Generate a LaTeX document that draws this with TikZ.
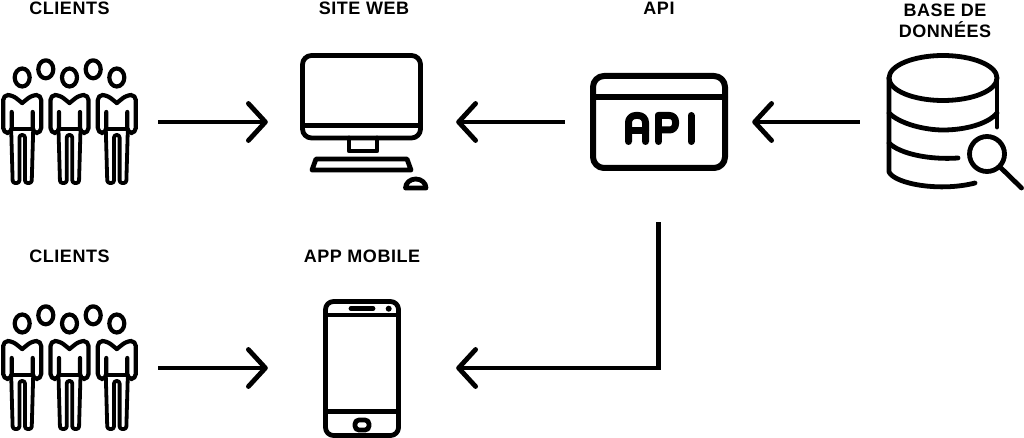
\documentclass[tikz,border=0pt]{standalone}
\usepackage{fontspec}
\setmainfont{Liberation Sans}[LetterSpace=3]
\usetikzlibrary{arrows.meta}
\tikzset{
    iconbox/.style={minimum width=#1, minimum height=200pt, inner sep=0pt},
    toplabel/.style={font=\fontsize{18}{21}\selectfont\bfseries, align=center, anchor=base, text=black},
    link/.style={line width=4.8pt, -{Straight Barb[round,length=17pt,width=37pt,line width=4.8pt]}},
    icon/.style={line width=4.8pt, line join=round, line cap=round, rounded corners=#1},
    icon/.default=0pt,
    person/.pic={
        \draw[icon, line width=4.2pt] (0,-44.5) ellipse (7.5 and 9);
        \draw[icon=5pt, line width=4.2pt] (0,-19) -- (-10,-27) -- (-19,-27) -- (-19,11) -- (-10.5,11) -- (-10.5,-10);
        \draw[icon=5pt, line width=4.2pt] (0,-19) -- (10,-27) -- (19,-27) -- (19,11) -- (10.5,11) -- (10.5,-10);
        \draw[icon, line width=4.2pt] (-10.5,7) -- (10.5,7);
        \draw[icon=2.5pt, line width=3.8pt] (-11,8) -- (-9.5,61) -- (-2.8,61) -- (-2.8,13) -- (2.8,13) -- (2.8,61) -- (9.5,61) -- (11,8);
    },
    crowd/.pic={
        \pic at (-47.3,0) {person};
        \pic at (0,0) {person};
        \pic at (47.3,0) {person};
        \draw[icon, line width=4.2pt] (-23.7,-52.7) ellipse (7.5 and 9);
        \draw[icon, line width=4.2pt] (23.7,-52.7) ellipse (7.5 and 9);
    }
}
\begin{document}
\begin{tikzpicture}[x=1pt, y=-1pt]
    \useasboundingbox (0,0) rectangle (1024,438);

    % boxes around the icons, the arrows stop at their sides
    \node[iconbox=178pt] (clientsTop) at (69,122) {};
    \node[iconbox=188pt] (siteWeb) at (362,122) {};
    \node[iconbox=187pt] (api) at (658.5,122) {};
    \node[iconbox=170pt] (dataBase) at (945,122) {};
    \node[iconbox=178pt] (clientsBottom) at (69,368) {};
    \node[iconbox=188pt] (appMobile) at (362,368) {};
    \coordinate (corner) at (api.south |- appMobile);

    \node[toplabel] (labelClientsTop) at (69.5,15) {CLIENTS};
    \node[toplabel] (labelSite) at (364,15) {SITE WEB};
    \node[toplabel] (labelApi) at (659,15) {API};
    \node[toplabel] (labelBase) at (945,37.5) {BASE DE\\DONNÉES};
    \node[toplabel] (labelClientsBottom) at (69.5,262.5) {CLIENTS};
    \node[toplabel] (labelApp) at (362,262.5) {APP MOBILE};

    \pic at (69.5,122) {crowd};
    \pic at (69.5,368) {crowd};

    % screen
    \draw[icon=9pt] (302.5,55.5) rectangle (420.5,138);
    \draw[icon] (302.5,125.5) -- (420.5,125.5);
    \draw[icon] (349,138) -- (349,151) -- (377,151) -- (377,138);
    \draw[icon] (316,159) -- (407,159) -- (411,170) -- (312,170) -- cycle;
    \draw[icon] (405.5,188) -- (426,188) arc (0:-180:10.25 and 9) -- cycle;

    % api window
    \draw[icon=11pt, line width=6pt] (593,76) rectangle (725,168);
    \draw[icon, line width=6pt] (593,96.7) -- (725,96.7);
    \draw[icon=7pt, line width=7pt] (628.5,141.5) -- (628.5,115.5) -- (645.5,115.5) -- (645.5,141.5);
    \draw[icon, line width=7pt] (628.5,131) -- (645.5,131);
    \draw[icon, line width=7pt] (658.5,141.5) -- (658.5,115.5);
    \draw[icon=6pt, line width=7pt] (658.5,115.5) -- (675.5,115.5) -- (675.5,130) -- (658.5,130);
    \draw[icon, line width=7pt] (691,115.5) -- (691,141.5);

    % cylinder
    \draw[icon] (943,78) ellipse (54 and 22.5);
    \draw[icon] (889,78) -- (889,172) .. controls (895,184) and (940,192) .. (975,183);
    \draw[icon] (889,113) .. controls (900,124) and (925,130) .. (943,130) .. controls (965,130) and (988,124) .. (997,113);
    \draw[icon] (997,78) -- (997,127);
    \draw[icon] (889,143) .. controls (900,154) and (930,160) .. (958,158);
    \draw[icon] (987,154) circle (17.5);
    \draw[icon] (1000,167) -- (1021.5,188);

    % phone
    \draw[icon=8pt] (325.5,301.5) rectangle (398.5,435.5);
    \draw[icon] (325.5,315) -- (398.5,315);
    \draw[icon] (325.5,411.5) -- (398.5,411.5);
    \draw[icon] (351,308.7) -- (373,308.7);
    \fill (388.7,308.7) circle (3);
    \draw[icon=4pt] (355,420) rectangle (369,430);

    \draw[link] (clientsTop) -- (siteWeb);
    \draw[link] (api) -- (siteWeb);
    \draw[link] (dataBase) -- (api);
    \draw[link] (clientsBottom) -- (appMobile);
    \draw[link] (api.south) -- (corner) -- (appMobile.east);
\end{tikzpicture}
\end{document}
